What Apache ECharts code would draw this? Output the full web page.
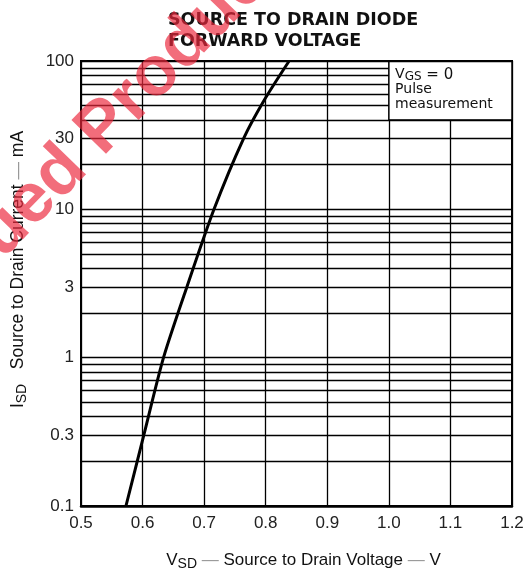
<!DOCTYPE html>
<html>
<head>
<meta charset="utf-8">
<script src="https://cdn.jsdelivr.net/npm/echarts@6/dist/echarts.min.js"></script>
<style>
  html, body {margin: 0; padding: 0; background: #fff;}
  #chart {width: 530px; height: 576px;}
</style>
</head>
<body>
<div id="chart"></div>
<script>
// diode forward curve
var voltage = [0.573, 0.602, 0.634, 0.672, 0.716, 0.764, 0.797, 0.838];
var current = [0.1, 0.3, 1, 3, 10, 30, 54, 100];

// log grid lines (1..9 in each decade) and the labelled ones
var gridValues = [0.2, 0.3, 0.4, 0.5, 0.6, 0.7, 0.8, 0.9,
  1, 2, 3, 4, 5, 6, 7, 8, 9,
  10, 20, 30, 40, 50, 60, 70, 80, 90, 100];
var yTickLabels = [0.1, 0.3, 1, 3, 10, 30, 100];

// note box in the top right corner
var noteX = [1.0, 1.2];
var noteY = [40, 100];

var myChart = echarts.init(document.getElementById('chart'));

var font = 'Liberation Sans';
var red = 'rgba(236,40,60,0.68)';

var lines = gridValues.map(function (v) {
  var xEnd = (v > noteY[0] && v < noteY[1]) ? noteX[0] : 1.2;
  return [{coord: [0.5, v]}, {coord: [xEnd, v]}];
});
var labelLines = yTickLabels.map(function (v) {
  return [
    {coord: [0.5, v], label: {show: true, formatter: String(v)}, lineStyle: {width: 0}},
    {coord: [0.5, v]}
  ];
});

myChart.setOption({
  animation: false,
  textStyle: {fontFamily: font},
  title: {
    text: 'SOURCE TO DRAIN DIODE\nFORWARD VOLTAGE',
    left: 163,
    top: 5,
    textStyle: {
      fontFamily: 'DejaVu Sans',
      fontWeight: 'bold',
      fontSize: 17.5,
      lineHeight: 21,
      color: '#111'
    }
  },
  grid: {
    left: 81, right: 18, top: 61, bottom: 70,
    outerBoundsMode: 'none',
    containLabel: false,
    show: true, borderColor: '#000', borderWidth: 2
  },
  xAxis: {
    type: 'value',
    min: 0.5, max: 1.2, interval: 0.1,
    name: 'V{sub|SD}{d| — }Source to Drain Voltage{d| — }V',
    nameLocation: 'middle',
    nameGap: 44,
    nameTextStyle: {
      fontSize: 17, color: '#111', padding: [0, 0, 0, 14],
      rich: {
        sub: {fontSize: 14, color: '#111', padding: [7, 0, 0, 0]},
        d: {fontSize: 17, color: '#999'}
      }
    },
    axisLine: {lineStyle: {color: '#000', width: 2.5}},
    axisTick: {show: false},
    axisLabel: {
      fontSize: 17, color: '#222', margin: 9,
      formatter: function (v) { return v.toFixed(1); }
    },
    splitLine: {lineStyle: {color: '#000', width: 1.3}}
  },
  yAxis: {
    type: 'log',
    logBase: 10,
    min: 0.1, max: 100,
    name: 'I{sub|SD}   Source to Drain Current{d| — }mA',
    nameLocation: 'middle',
    nameRotate: 90,
    nameGap: 52,
    nameTextStyle: {
      fontSize: 17.5, color: '#111', padding: [0, 0, 0, 28],
      rich: {
        sub: {fontSize: 14, color: '#111', padding: [7, 0, 0, 0]},
        d: {fontSize: 17.5, color: '#999'}
      }
    },
    axisLine: {lineStyle: {color: '#000', width: 2}},
    axisTick: {show: false},
    axisLabel: {show: false},
    splitLine: {show: false}
  },
  series: [
    {
      type: 'line',
      data: [],
      z: 2,
      silent: true,
      markLine: {
        silent: true,
        symbol: 'none',
        label: {
          show: false, position: 'start', distance: 0,
          align: 'right', verticalAlign: 'middle', padding: [0, 7, 0, 0],
          fontSize: 17, color: '#222'
        },
        lineStyle: {color: '#000', width: 1.3, type: 'solid'},
        emphasis: {disabled: true},
        data: lines.concat(labelLines)
      }
    },
    {
      type: 'line',
      data: [],
      z: 3,
      silent: true,
      markArea: {
        silent: true,
        itemStyle: {color: '#fff', borderColor: '#000', borderWidth: 1.5},
        label: {
          show: true,
          position: 'insideTopLeft',
          distance: 7,
          formatter: 'V{sub|GS}{t| = 0}\nPulse\nmeasurement',
          fontFamily: 'DejaVu Sans',
          fontSize: 14,
          lineHeight: 15,
          color: '#111',
          rich: {
            sub: {fontFamily: 'DejaVu Sans', fontSize: 12, color: '#111', padding: [5, 0, 0, 0]},
            t: {fontFamily: 'DejaVu Sans', fontSize: 15, color: '#111'}
          }
        },
        emphasis: {disabled: true},
        data: [[{coord: [noteX[0], noteY[1]]}, {coord: [noteX[1], noteY[0]]}]]
      }
    },
    {
      type: 'line',
      z: 4,
      smooth: 0.25,
      symbol: 'none',
      lineStyle: {color: '#000', width: 3},
      data: voltage.map(function (v, i) { return [v, current[i]]; })
    }
  ],
  graphic: [
    {
      type: 'text', x: 114, y: 168, rotation: 0.8, z: 100, silent: true,
      style: {
        text: 'Discontinued ',
        align: 'right', verticalAlign: 'bottom',
        font: 'bold 70px "Liberation Sans"',
        fill: red
      }
    },
    {
      type: 'text', x: 114, y: 168, rotation: 0.8, z: 100, silent: true,
      style: {
        text: 'Product',
        align: 'left', verticalAlign: 'bottom',
        font: 'bold 70px "Liberation Sans"',
        fill: red
      }
    }
  ]
});
</script>
</body>
</html>
